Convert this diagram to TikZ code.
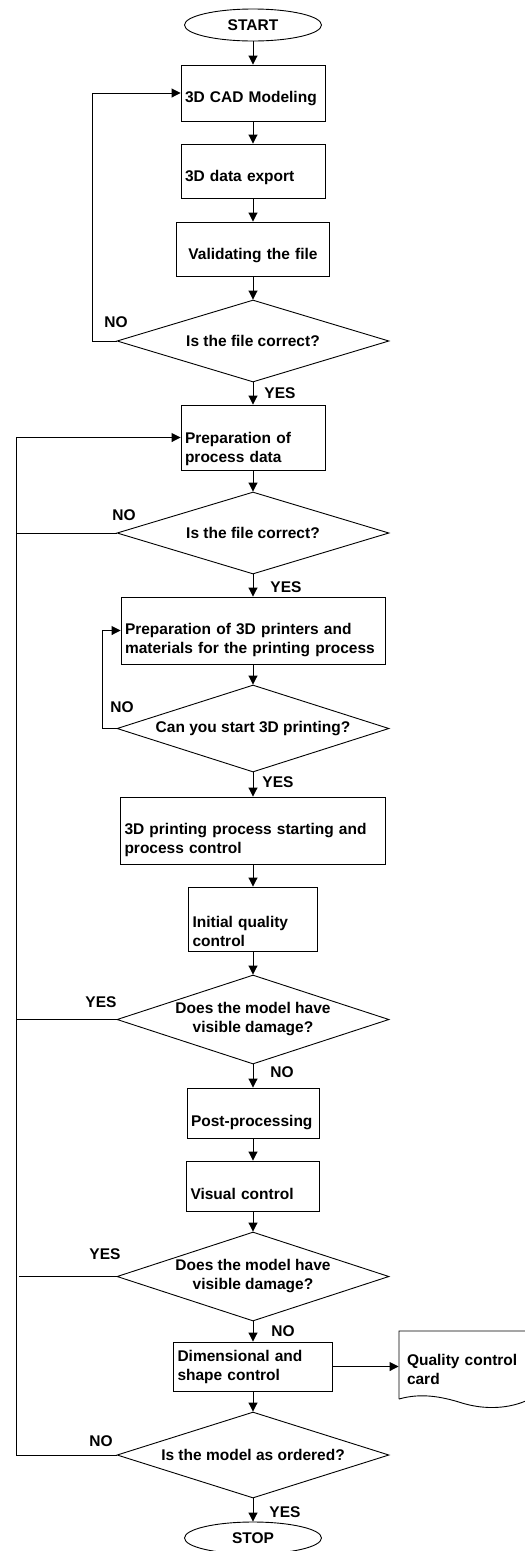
\documentclass[tikz,border=0pt]{standalone}
\usepackage{fontspec}
\setmainfont{Liberation Sans}
\usetikzlibrary{shapes.geometric,arrows.meta}

\begin{document}
\begin{tikzpicture}[x=1pt,y=-1pt,line width=0.9pt,
  font=\fontsize{15.5}{19}\selectfont\bfseries,
  box/.style={draw,rectangle,inner xsep=4pt,inner ysep=0pt,align=left},
  decide/.style={draw,diamond,aspect=3.2,inner sep=0pt,minimum width=272pt,align=center},
  term/.style={draw,ellipse,inner sep=0pt,minimum width=137pt,minimum height=32pt},
  arr/.style={-{Triangle[length=9pt,width=9pt]}},
  lbl/.style={inner sep=0pt}]
  \useasboundingbox (0,0) rectangle (525,1551);
  % start, modeling and file check
  \node[term] (start) at (253,25) {START};
  \node[box,text width=136pt,minimum height=56pt,text height=23pt] (cad) at (253,93) {3D CAD Modeling};
  \node[box,text width=136pt,minimum height=54pt,text height=25pt] (export) at (253,171) {3D data export};
  \node[box,text width=145pt,minimum height=54pt,text height=25pt,align=center] (valid) at (253,249) {Validating the file};
  \node[decide,minimum height=82pt] (chk1) at (253,341) {Is the file correct?};
  % process data and printers
  \node[box,text width=136pt,minimum height=65pt,text height=34pt] (procdata) at (253,437.5) {Preparation of\\process data};
  \node[decide,minimum height=82pt] (chk2) at (253,533) {Is the file correct?};
  \node[box,text width=256pt,minimum height=67pt,text height=30pt] (printers) at (253,630.5) {Preparation of 3D printers and\\materials for the printing process};
  \node[decide,minimum height=87pt] (chk3) at (253,728.5) {Can you start 3D printing?};
  % printing and first control
  \node[box,text width=257pt,minimum height=67pt,text height=30pt] (printing) at (253,830.5) {3D printing process starting and\\process control};
  \node[box,text width=121pt,minimum height=64pt,text height=36pt] (initqc) at (253,919) {Initial quality\\control};
  \node[decide,minimum height=89pt] (chk4) at (253,1019.5) {Does the model have\\visible damage?};
  \node[box,text width=124pt,minimum height=50pt,text height=31pt] (post) at (253,1113) {Post-processing};
  \node[box,text width=125pt,minimum height=50pt,text height=27pt] (visual) at (253,1186) {Visual control};
  \node[decide,minimum height=89pt] (chk5) at (253,1276.5) {Does the model have\\visible damage?};
  % final control and card
  \node[box,text width=151pt,minimum height=49pt] (dimshape) at (253,1366.5) {Dimensional and\\shape control};
  \node[lbl,inner xsep=8pt,text width=112pt,align=left,text height=20pt] (card) at (463,1365) {Quality control\\card};
  \draw (399,1399) -- (399,1331) -- (530,1331) -- (530,1400)
        (399,1399) .. controls (420,1393) and (440,1396) .. (462,1403)
        .. controls (485,1410) and (510,1409) .. (530,1399);
  \node[decide,minimum height=86pt] (chk6) at (253,1455) {Is the model as ordered?};
  \node[term] (stop) at (253,1538) {STOP};
  % main flow
  \draw[arr] (start) -- (cad);
  \draw[arr] (cad) -- (export);
  \draw[arr] (export) -- (valid);
  \draw[arr] (valid) -- (chk1);
  \draw[arr] (chk1) -- (procdata);
  \draw[arr] (procdata) -- (chk2);
  \draw[arr] (chk2) -- (printers);
  \draw[arr] (printers) -- (chk3);
  \draw[arr] (chk3) -- (printing);
  \draw[arr] (printing) -- (initqc);
  \draw[arr] (initqc) -- (chk4);
  \draw[arr] (chk4) -- (post);
  \draw[arr] (post) -- (visual);
  \draw[arr] (visual) -- (chk5);
  \draw[arr] (chk5) -- (dimshape);
  \draw[arr] (dimshape) -- (chk6);
  \draw[arr] (chk6) -- (stop);
  \draw[arr] (dimshape.east) -- (dimshape.east -| card.west);
  % loops back
  \coordinate (rail) at (16,0);
  \coordinate (railgap) at (19,0);
  \draw[arr] (chk1.west) -- ++(-24,0) |- (cad.west);
  \draw[arr] (chk3.west) -- ++(-14,0) |- (printers.west);
  \draw[arr] (chk6.west) -- (chk6.west -| rail) |- (procdata.west);
  \draw (chk2.west) -- (chk2.west -| rail);
  \draw (chk4.west) -- (chk4.west -| rail);
  \draw (chk5.west) -- (chk5.west -| railgap);
  % yes / no labels
  \node[lbl] (no1) at (116,322) {NO};
  \node[lbl] (yes1) at (280,393) {YES};
  \node[lbl] (no2) at (124,515) {NO};
  \node[lbl] (yes2) at (286,587) {YES};
  \node[lbl] (no3) at (122,707) {NO};
  \node[lbl] (yes3) at (278,782) {YES};
  \node[lbl] (yes4) at (101,1002) {YES};
  \node[lbl] (no4) at (282,1072) {NO};
  \node[lbl] (yes5) at (105,1254) {YES};
  \node[lbl] (no5) at (283,1331) {NO};
  \node[lbl] (no6) at (101,1441) {NO};
  \node[lbl] (yes6) at (285,1512) {YES};
\end{tikzpicture}
\end{document}
